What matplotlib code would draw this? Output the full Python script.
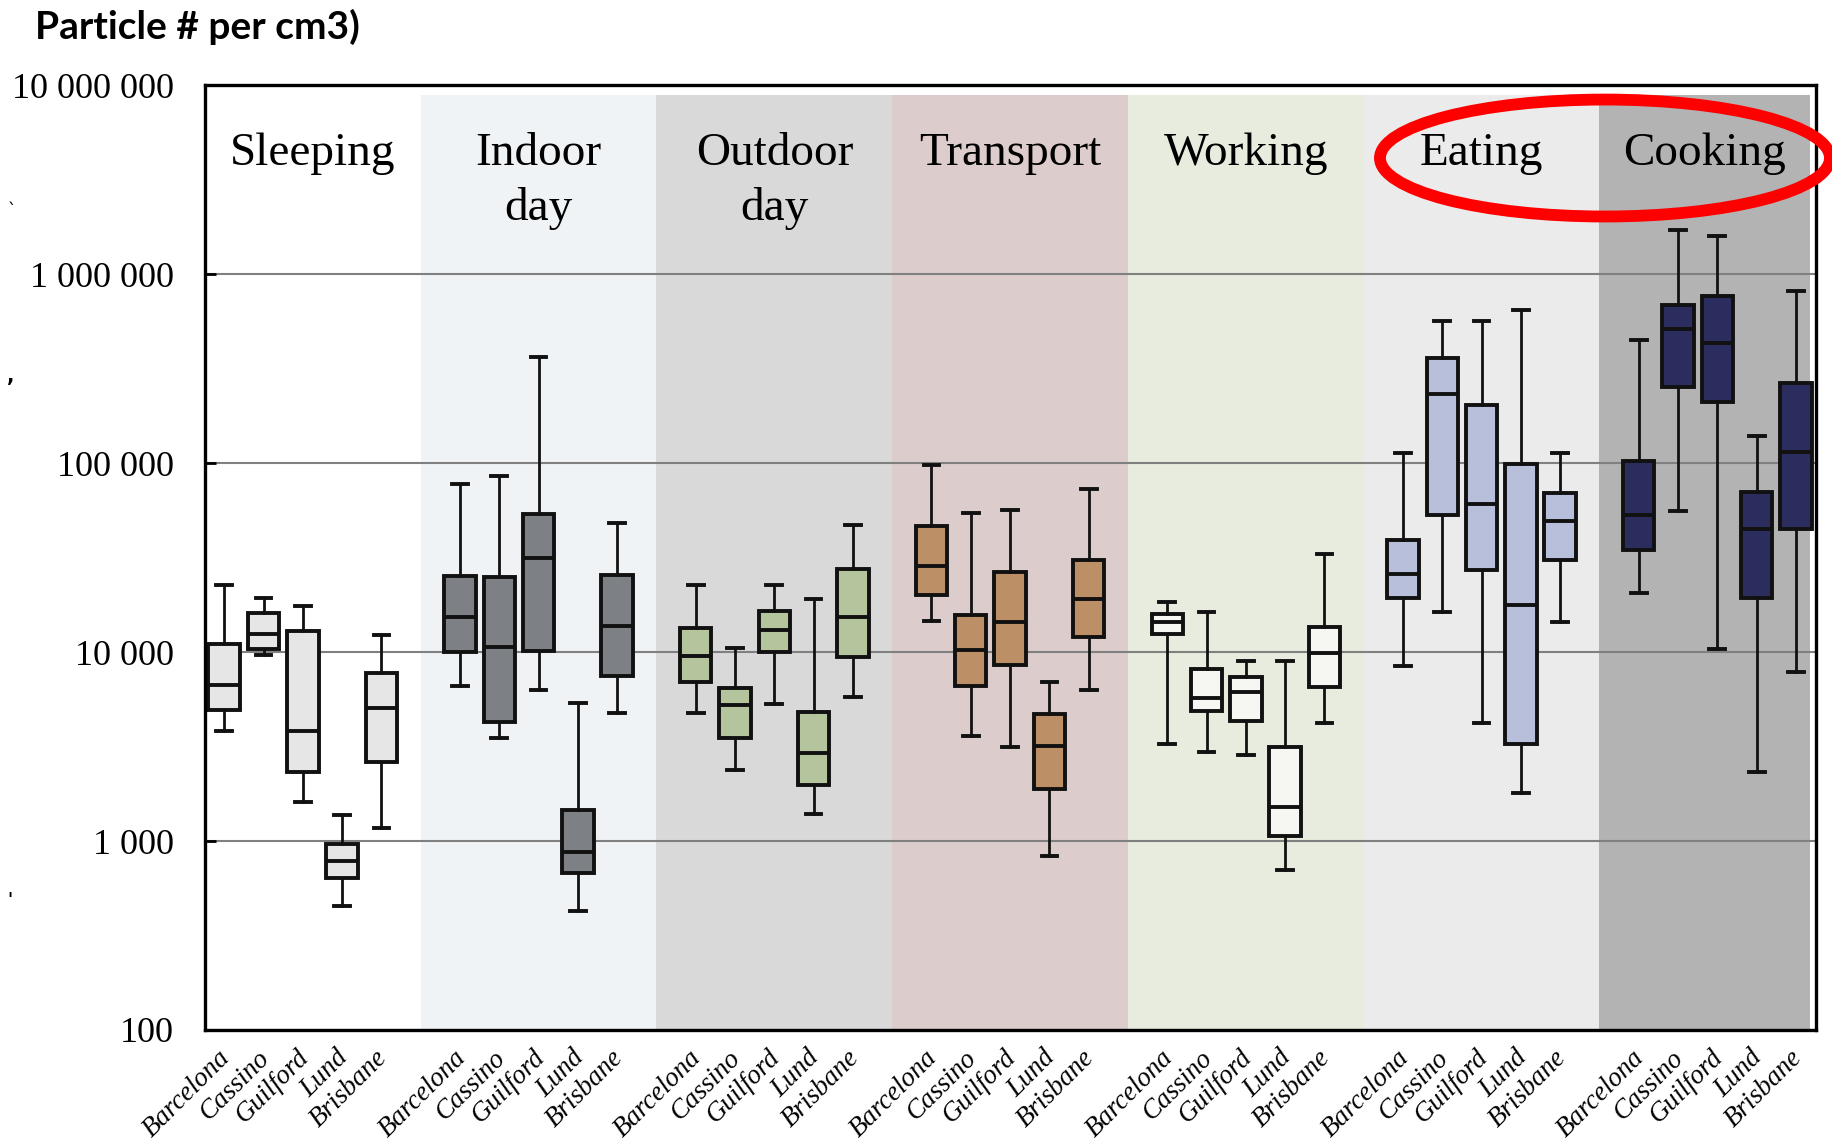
import matplotlib
matplotlib.use("Agg")
import matplotlib.pyplot as plt
from matplotlib.patches import Ellipse
from matplotlib.transforms import ScaledTranslation

# activities (one shaded band each) and cities (one box each)
activities = ["Sleeping", "Indoor\nday", "Outdoor\nday", "Transport", "Working", "Eating", "Cooking"]
cities = ["Barcelona", "Cassino", "Guilford", "Lund", "Brisbane"]

band_colors = ["#ffffff", "#eff3f6", "#d9d9d9", "#dccccb", "#e7ecdf", "#ebebeb", "#b3b3b3"]
box_colors = ["#e6e6e6", "#7d8085", "#b4c49c", "#bd8f66", "#f6f7f2", "#b7bfdb", "#2c2d5f"]

# particle number per cm3, 5 cities per activity
whislo = [3840, 9700, 1615, 453, 1175,
          6610, 3500, 6300, 424, 4750,
          4750, 2370, 5300, 1392, 5760,
          14540, 3580, 3140, 833, 6300,
          3280, 2970, 2855, 705, 4200,
          8450, 16400, 4200, 1790, 14450,
          20470, 55900, 10430, 2332, 7820]
q1 = [4940, 10400, 2310, 636, 2610,
      9960, 4260, 10180, 679, 7470,
      6970, 3530, 9960, 1973, 9440,
      19980, 6585, 8550, 1888, 12060,
      12440, 4900, 4300, 1062, 6550,
      19290, 53300, 27100, 3250, 30900,
      34780, 252400, 210500, 19370, 44720]
med = [6700, 12530, 3820, 787, 5050,
       15380, 10630, 31400, 870, 13800,
       9530, 5220, 13040, 2920, 15380,
       28680, 10310, 14410, 3185, 19120,
       14450, 5740, 6160, 1521, 9950,
       25880, 233500, 60740, 17830, 49700,
       53140, 511500, 432800, 44720, 115000]
q3 = [11050, 16070, 12930, 962, 7710,
      25270, 25070, 53900, 1466, 25580,
      13340, 6440, 16560, 4810, 27450,
      46280, 15730, 26400, 4710, 30870,
      15860, 8150, 7350, 3160, 13600,
      39370, 360300, 204000, 98600, 69500,
      103300, 689000, 770600, 70230, 264300]
whishi = [22600, 19300, 17540, 1374, 12340,
          77600, 85900, 366000, 5370, 48130,
          22600, 10540, 22600, 19150, 46900,
          97400, 54800, 56550, 6940, 72800,
          18500, 16390, 8980, 8980, 33100,
          113400, 569000, 569000, 645000, 113400,
          447200, 1706000, 1600000, 138500, 818400]

yticks = [100, 1000, 10000, 100000, 1000000, 10000000]
ytick_labels = ["100", "1 000", "10 000", "100 000", "1 000 000", "10 000 000"]

serif = "Liberation Serif"

fig = plt.figure(figsize=(18.33, 11.41), dpi=100)
ax = fig.add_axes([0.1116, 0.0973, 0.8789, 0.8279])
ax.set_yscale("log")
ax.set_ylim(100, 1e7)
ax.set_xlim(-0.5, 40.5)

n = len(cities)
positions = []
stats = []
for k in range(len(med)):
    g, i = divmod(k, n)
    positions.append(g * (n + 1) + i)
    stats.append(dict(whislo=whislo[k], q1=q1[k], med=med[k], q3=q3[k], whishi=whishi[k]))

# background bands
for g, col in enumerate(band_colors):
    left = -0.5 if g == 0 else g * (n + 1) - 1
    right = 40.35 if g == len(band_colors) - 1 else g * (n + 1) + n
    ax.axvspan(left, right, ymin=0, ymax=0.99, color=col, lw=0, zorder=0)
    ax.text((left + right) / 2, 10 ** 6.75, activities[g], ha="center", va="top",
            fontsize=34, family=serif, linespacing=1.35, zorder=3)

ax.set_axisbelow(True)
ax.yaxis.grid(True, which="major", color="#808080", lw=1.5)

bp = ax.bxp(stats, positions=positions, widths=0.8, capwidths=0.4, patch_artist=True,
            showfliers=False, manage_ticks=False,
            boxprops=dict(lw=2.8, edgecolor="#111111"),
            medianprops=dict(lw=2.8, color="#111111"),
            whiskerprops=dict(lw=2.0, color="#111111"),
            capprops=dict(lw=2.8, color="#111111"))
for k, box in enumerate(bp["boxes"]):
    box.set_facecolor(box_colors[k // n])

# axes styling
ax.set_yticks(yticks)
ax.set_yticklabels(ytick_labels, family=serif, fontsize=26)
ax.yaxis.set_minor_locator(matplotlib.ticker.NullLocator())
ax.tick_params(axis="y", direction="in", length=8, width=2, pad=22)

ax.set_xticks(positions)
ax.set_xticklabels(cities * len(activities), rotation=45, ha="right", va="top",
                   family=serif, style="italic", fontsize=19.5)
ax.tick_params(axis="x", length=0, pad=11)
shift = ScaledTranslation(0.11, 0, fig.dpi_scale_trans)
for lab in ax.get_xticklabels():
    lab.set_transform(lab.get_transform() + shift)

for s in ax.spines.values():
    s.set_linewidth(2.4)
    s.set_color("black")
    s.set_zorder(5)

# title and annotation
fig.text(35 / 1833, 1 - 27 / 1141, "Particle # per cm3)", fontsize=28, family="Lato",
         weight="bold", va="center", ha="left")
fig.add_artist(Ellipse((0.8756, 0.8615), 0.2455, 0.1025, transform=fig.transFigure,
                       fill=False, ec="#ff0000", lw=8.5, zorder=10))

# stray marks at the left edge
fig.text(0.004, 1 - 216 / 1141, "`", fontsize=12)
fig.text(0.004, 1 - 382 / 1141, ",", fontsize=14, weight="bold")
fig.text(0.004, 1 - 905 / 1141, "'", fontsize=12, weight="bold")

fig.savefig("out.png", dpi=100)
